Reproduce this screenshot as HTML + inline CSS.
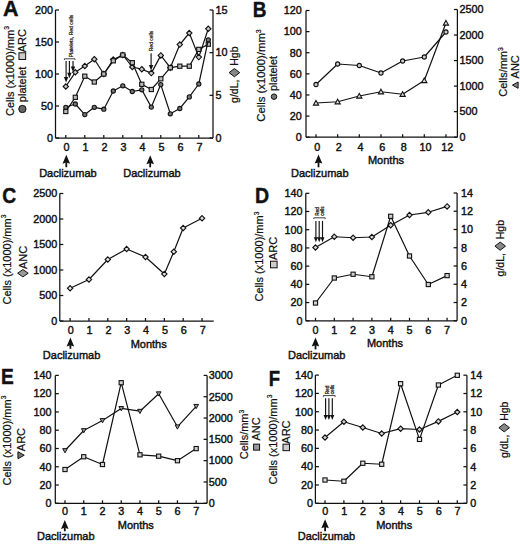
<!DOCTYPE html>
<html><head><meta charset="utf-8"><style>
html,body{margin:0;padding:0;background:#fff;}
svg{display:block;}
text{font-family:"Liberation Sans",sans-serif;fill:#111;stroke:#111;stroke-width:0.42px;}
</style></head><body>
<svg width="520" height="545" viewBox="0 0 520 545">
<rect width="520" height="545" fill="#fff"/>
<text transform="translate(3.00 16.20) scale(1.0 1)" x="0" y="0" font-size="21.5" font-weight="bold">A</text>
<line x1="55.50" y1="10.00" x2="55.50" y2="138.00" stroke="#111" stroke-width="1.25"/>
<line x1="55.50" y1="138.00" x2="59.00" y2="138.00" stroke="#111" stroke-width="1.25"/>
<text x="53.00" y="141.80" font-size="10.8" text-anchor="end" font-weight="normal">0</text>
<line x1="55.50" y1="106.00" x2="59.00" y2="106.00" stroke="#111" stroke-width="1.25"/>
<text x="53.00" y="109.80" font-size="10.8" text-anchor="end" font-weight="normal">50</text>
<line x1="55.50" y1="74.00" x2="59.00" y2="74.00" stroke="#111" stroke-width="1.25"/>
<text x="53.00" y="77.80" font-size="10.8" text-anchor="end" font-weight="normal">100</text>
<line x1="55.50" y1="42.00" x2="59.00" y2="42.00" stroke="#111" stroke-width="1.25"/>
<text x="53.00" y="45.80" font-size="10.8" text-anchor="end" font-weight="normal">150</text>
<line x1="55.50" y1="10.00" x2="59.00" y2="10.00" stroke="#111" stroke-width="1.25"/>
<text x="53.00" y="13.80" font-size="10.8" text-anchor="end" font-weight="normal">200</text>
<line x1="213.00" y1="10.00" x2="213.00" y2="138.00" stroke="#111" stroke-width="1.25"/>
<line x1="209.50" y1="138.00" x2="213.00" y2="138.00" stroke="#111" stroke-width="1.25"/>
<text x="215.50" y="141.80" font-size="10.8" text-anchor="start" font-weight="normal">0</text>
<line x1="209.50" y1="95.33" x2="213.00" y2="95.33" stroke="#111" stroke-width="1.25"/>
<text x="215.50" y="99.13" font-size="10.8" text-anchor="start" font-weight="normal">5</text>
<line x1="209.50" y1="52.67" x2="213.00" y2="52.67" stroke="#111" stroke-width="1.25"/>
<text x="215.50" y="56.47" font-size="10.8" text-anchor="start" font-weight="normal">10</text>
<line x1="209.50" y1="10.00" x2="213.00" y2="10.00" stroke="#111" stroke-width="1.25"/>
<text x="215.50" y="13.80" font-size="10.8" text-anchor="start" font-weight="normal">15</text>
<line x1="55.50" y1="138.00" x2="213.00" y2="138.00" stroke="#111" stroke-width="1.25"/>
<line x1="65.80" y1="135.00" x2="65.80" y2="138.00" stroke="#111" stroke-width="1.25"/>
<text x="66.50" y="150.80" font-size="10.8" text-anchor="middle" font-weight="normal">0</text>
<line x1="84.80" y1="135.00" x2="84.80" y2="138.00" stroke="#111" stroke-width="1.25"/>
<text x="85.50" y="150.80" font-size="10.8" text-anchor="middle" font-weight="normal">1</text>
<line x1="103.80" y1="135.00" x2="103.80" y2="138.00" stroke="#111" stroke-width="1.25"/>
<text x="104.50" y="150.80" font-size="10.8" text-anchor="middle" font-weight="normal">2</text>
<line x1="122.80" y1="135.00" x2="122.80" y2="138.00" stroke="#111" stroke-width="1.25"/>
<text x="123.50" y="150.80" font-size="10.8" text-anchor="middle" font-weight="normal">3</text>
<line x1="141.80" y1="135.00" x2="141.80" y2="138.00" stroke="#111" stroke-width="1.25"/>
<text x="142.50" y="150.80" font-size="10.8" text-anchor="middle" font-weight="normal">4</text>
<line x1="160.80" y1="135.00" x2="160.80" y2="138.00" stroke="#111" stroke-width="1.25"/>
<text x="161.50" y="150.80" font-size="10.8" text-anchor="middle" font-weight="normal">5</text>
<line x1="179.80" y1="135.00" x2="179.80" y2="138.00" stroke="#111" stroke-width="1.25"/>
<text x="180.50" y="150.80" font-size="10.8" text-anchor="middle" font-weight="normal">6</text>
<line x1="198.80" y1="135.00" x2="198.80" y2="138.00" stroke="#111" stroke-width="1.25"/>
<text x="199.50" y="150.80" font-size="10.8" text-anchor="middle" font-weight="normal">7</text>
<polyline points="65.80,86.50 75.30,72.30 84.80,66.00 94.30,59.20 103.80,74.00 113.30,59.50 122.80,55.00 132.30,67.00 141.80,69.20 151.30,73.10 160.80,55.40 170.30,67.70 179.80,44.60 189.30,33.00 198.80,57.10 208.30,28.80" fill="none" stroke="#111" stroke-width="1.2" stroke-linejoin="round"/>
<polygon points="65.80,83.80 68.50,86.50 65.80,89.20 63.10,86.50" fill="#c8c8c8" stroke="#111" stroke-width="1.1"/>
<polygon points="75.30,69.60 78.00,72.30 75.30,75.00 72.60,72.30" fill="#c8c8c8" stroke="#111" stroke-width="1.1"/>
<polygon points="84.80,63.30 87.50,66.00 84.80,68.70 82.10,66.00" fill="#c8c8c8" stroke="#111" stroke-width="1.1"/>
<polygon points="94.30,56.50 97.00,59.20 94.30,61.90 91.60,59.20" fill="#c8c8c8" stroke="#111" stroke-width="1.1"/>
<polygon points="103.80,71.30 106.50,74.00 103.80,76.70 101.10,74.00" fill="#c8c8c8" stroke="#111" stroke-width="1.1"/>
<polygon points="113.30,56.80 116.00,59.50 113.30,62.20 110.60,59.50" fill="#c8c8c8" stroke="#111" stroke-width="1.1"/>
<polygon points="122.80,52.30 125.50,55.00 122.80,57.70 120.10,55.00" fill="#c8c8c8" stroke="#111" stroke-width="1.1"/>
<polygon points="132.30,64.30 135.00,67.00 132.30,69.70 129.60,67.00" fill="#c8c8c8" stroke="#111" stroke-width="1.1"/>
<polygon points="141.80,66.50 144.50,69.20 141.80,71.90 139.10,69.20" fill="#c8c8c8" stroke="#111" stroke-width="1.1"/>
<polygon points="151.30,70.40 154.00,73.10 151.30,75.80 148.60,73.10" fill="#c8c8c8" stroke="#111" stroke-width="1.1"/>
<polygon points="160.80,52.70 163.50,55.40 160.80,58.10 158.10,55.40" fill="#c8c8c8" stroke="#111" stroke-width="1.1"/>
<polygon points="170.30,65.00 173.00,67.70 170.30,70.40 167.60,67.70" fill="#c8c8c8" stroke="#111" stroke-width="1.1"/>
<polygon points="179.80,41.90 182.50,44.60 179.80,47.30 177.10,44.60" fill="#c8c8c8" stroke="#111" stroke-width="1.1"/>
<polygon points="189.30,30.30 192.00,33.00 189.30,35.70 186.60,33.00" fill="#c8c8c8" stroke="#111" stroke-width="1.1"/>
<polygon points="198.80,54.40 201.50,57.10 198.80,59.80 196.10,57.10" fill="#c8c8c8" stroke="#111" stroke-width="1.1"/>
<polygon points="208.30,26.10 211.00,28.80 208.30,31.50 205.60,28.80" fill="#c8c8c8" stroke="#111" stroke-width="1.1"/>
<polyline points="65.80,111.50 75.30,97.30 84.80,76.20 94.30,82.00 103.80,74.00 113.30,60.80 122.80,55.00 132.30,62.70 141.80,84.30 151.30,89.50 160.80,78.80 170.30,67.70 179.80,66.20 189.30,66.20 198.80,49.40 208.30,44.20" fill="none" stroke="#111" stroke-width="1.2" stroke-linejoin="round"/>
<rect x="63.70" y="109.40" width="4.20" height="4.20" fill="#bbb" stroke="#111" stroke-width="1.1"/>
<rect x="73.20" y="95.20" width="4.20" height="4.20" fill="#bbb" stroke="#111" stroke-width="1.1"/>
<rect x="82.70" y="74.10" width="4.20" height="4.20" fill="#bbb" stroke="#111" stroke-width="1.1"/>
<rect x="92.20" y="79.90" width="4.20" height="4.20" fill="#bbb" stroke="#111" stroke-width="1.1"/>
<rect x="101.70" y="71.90" width="4.20" height="4.20" fill="#bbb" stroke="#111" stroke-width="1.1"/>
<rect x="111.20" y="58.70" width="4.20" height="4.20" fill="#bbb" stroke="#111" stroke-width="1.1"/>
<rect x="120.70" y="52.90" width="4.20" height="4.20" fill="#bbb" stroke="#111" stroke-width="1.1"/>
<rect x="130.20" y="60.60" width="4.20" height="4.20" fill="#bbb" stroke="#111" stroke-width="1.1"/>
<rect x="139.70" y="82.20" width="4.20" height="4.20" fill="#bbb" stroke="#111" stroke-width="1.1"/>
<rect x="149.20" y="87.40" width="4.20" height="4.20" fill="#bbb" stroke="#111" stroke-width="1.1"/>
<rect x="158.70" y="76.70" width="4.20" height="4.20" fill="#bbb" stroke="#111" stroke-width="1.1"/>
<rect x="168.20" y="65.60" width="4.20" height="4.20" fill="#bbb" stroke="#111" stroke-width="1.1"/>
<rect x="177.70" y="64.10" width="4.20" height="4.20" fill="#bbb" stroke="#111" stroke-width="1.1"/>
<rect x="187.20" y="64.10" width="4.20" height="4.20" fill="#bbb" stroke="#111" stroke-width="1.1"/>
<rect x="196.70" y="47.30" width="4.20" height="4.20" fill="#bbb" stroke="#111" stroke-width="1.1"/>
<rect x="206.20" y="42.10" width="4.20" height="4.20" fill="#bbb" stroke="#111" stroke-width="1.1"/>
<polyline points="65.80,107.30 75.30,104.00 84.80,114.60 94.30,107.30 103.80,109.20 113.30,91.00 122.80,85.80 132.30,91.50 141.80,89.80 151.30,107.10 160.80,84.60 170.30,113.80 179.80,108.50 189.30,96.90 198.80,84.00 208.30,39.80" fill="none" stroke="#111" stroke-width="1.2" stroke-linejoin="round"/>
<circle cx="65.80" cy="107.30" r="2.10" fill="#777" stroke="#111" stroke-width="1.1"/>
<circle cx="75.30" cy="104.00" r="2.10" fill="#777" stroke="#111" stroke-width="1.1"/>
<circle cx="84.80" cy="114.60" r="2.10" fill="#777" stroke="#111" stroke-width="1.1"/>
<circle cx="94.30" cy="107.30" r="2.10" fill="#777" stroke="#111" stroke-width="1.1"/>
<circle cx="103.80" cy="109.20" r="2.10" fill="#777" stroke="#111" stroke-width="1.1"/>
<circle cx="113.30" cy="91.00" r="2.10" fill="#777" stroke="#111" stroke-width="1.1"/>
<circle cx="122.80" cy="85.80" r="2.10" fill="#777" stroke="#111" stroke-width="1.1"/>
<circle cx="132.30" cy="91.50" r="2.10" fill="#777" stroke="#111" stroke-width="1.1"/>
<circle cx="141.80" cy="89.80" r="2.10" fill="#777" stroke="#111" stroke-width="1.1"/>
<circle cx="151.30" cy="107.10" r="2.10" fill="#777" stroke="#111" stroke-width="1.1"/>
<circle cx="160.80" cy="84.60" r="2.10" fill="#777" stroke="#111" stroke-width="1.1"/>
<circle cx="170.30" cy="113.80" r="2.10" fill="#777" stroke="#111" stroke-width="1.1"/>
<circle cx="179.80" cy="108.50" r="2.10" fill="#777" stroke="#111" stroke-width="1.1"/>
<circle cx="189.30" cy="96.90" r="2.10" fill="#777" stroke="#111" stroke-width="1.1"/>
<circle cx="198.80" cy="84.00" r="2.10" fill="#777" stroke="#111" stroke-width="1.1"/>
<circle cx="208.30" cy="39.80" r="2.10" fill="#777" stroke="#111" stroke-width="1.1"/>
<line x1="64.40" y1="58.80" x2="75.00" y2="58.80" stroke="#111" stroke-width="0.8"/>
<line x1="64.40" y1="58.80" x2="64.40" y2="60.00" stroke="#111" stroke-width="0.8"/>
<line x1="75.00" y1="58.80" x2="75.00" y2="60.00" stroke="#111" stroke-width="0.8"/>
<line x1="66.10" y1="61.00" x2="66.10" y2="78.10" stroke="#111" stroke-width="1.15"/>
<polygon points="66.10,82.60 68.30,77.10 63.90,77.10" fill="#111"/>
<line x1="69.40" y1="61.00" x2="69.40" y2="73.70" stroke="#111" stroke-width="1.15"/>
<polygon points="69.40,78.20 71.60,72.70 67.20,72.70" fill="#111"/>
<line x1="73.00" y1="61.00" x2="73.00" y2="67.50" stroke="#111" stroke-width="1.15"/>
<polygon points="73.00,72.00 75.20,66.50 70.80,66.50" fill="#111"/>
<g transform="translate(72.60 36.00) rotate(-90)"><text x="-21.26" y="0" font-size="5" style="stroke-width:0.2px">Platelets,&#160;Red&#160;cells</text></g>
<line x1="151.10" y1="53.30" x2="151.10" y2="66.00" stroke="#111" stroke-width="1.15"/>
<polygon points="151.10,70.50 153.30,65.00 148.90,65.00" fill="#111"/>
<g transform="translate(153.00 41.00) rotate(-90)"><text x="-10.28" y="0" font-size="5" style="stroke-width:0.2px">Red&#160;cells</text></g>
<line x1="66.30" y1="162.30" x2="66.30" y2="167.20" stroke="#111" stroke-width="1.8"/>
<polygon points="66.30,154.80 70.10,163.80 66.30,162.60 62.50,163.80" fill="#111"/>
<text x="67.90" y="176.90" font-size="11.0" text-anchor="middle" font-weight="normal">Daclizumab</text>
<line x1="150.20" y1="162.80" x2="150.20" y2="167.30" stroke="#111" stroke-width="1.8"/>
<polygon points="150.20,155.30 154.00,164.30 150.20,163.10 146.40,164.30" fill="#111"/>
<text x="152.00" y="176.90" font-size="11.0" text-anchor="middle" font-weight="normal">Daclizumab</text>
<g transform="translate(13.50 71.00) rotate(-90)"><text x="-44.99" y="0" font-size="11.0" style="stroke-width:0.22px">Cells&#160;(x1000)/mm</text><text x="41.20" y="-4.18" font-size="6.82" style="stroke-width:0.22px">3</text></g>
<g transform="translate(25.50 71.10) rotate(-90)"><circle cx="-37.90" cy="-3.10" r="3.65" fill="#666" stroke="#111" stroke-width="1"/><text x="-31.05" y="0" font-size="11.0" style="stroke-width:0.22px">platelet</text><rect x="11.62" y="-6.55" width="6.70" height="6.70" fill="#ccc" stroke="#111" stroke-width="1"/><text x="18.82" y="0" font-size="11.0" style="stroke-width:0.22px">ARC</text></g>
<g transform="translate(238.20 74.70) rotate(-90)"><text x="-28.21" y="0" font-size="10.5" style="stroke-width:0.22px">g/dL,</text><polygon points="-2.05,-3.80 2.05,-9.10 6.15,-3.80 2.05,1.50" fill="#888" stroke="#111" stroke-width="1"/><text x="8.95" y="0" font-size="10.5" style="stroke-width:0.22px">Hgb</text></g>
<text transform="translate(252.80 16.70) scale(0.88 1)" x="0" y="0" font-size="21.5" font-weight="bold">B</text>
<line x1="306.00" y1="10.50" x2="306.00" y2="137.20" stroke="#111" stroke-width="1.25"/>
<line x1="306.00" y1="137.20" x2="309.50" y2="137.20" stroke="#111" stroke-width="1.25"/>
<text x="301.70" y="141.00" font-size="10.8" text-anchor="end" font-weight="normal">0</text>
<line x1="306.00" y1="116.08" x2="309.50" y2="116.08" stroke="#111" stroke-width="1.25"/>
<text x="301.70" y="119.88" font-size="10.8" text-anchor="end" font-weight="normal">20</text>
<line x1="306.00" y1="94.97" x2="309.50" y2="94.97" stroke="#111" stroke-width="1.25"/>
<text x="301.70" y="98.77" font-size="10.8" text-anchor="end" font-weight="normal">40</text>
<line x1="306.00" y1="73.85" x2="309.50" y2="73.85" stroke="#111" stroke-width="1.25"/>
<text x="301.70" y="77.65" font-size="10.8" text-anchor="end" font-weight="normal">60</text>
<line x1="306.00" y1="52.73" x2="309.50" y2="52.73" stroke="#111" stroke-width="1.25"/>
<text x="301.70" y="56.53" font-size="10.8" text-anchor="end" font-weight="normal">80</text>
<line x1="306.00" y1="31.62" x2="309.50" y2="31.62" stroke="#111" stroke-width="1.25"/>
<text x="301.70" y="35.42" font-size="10.8" text-anchor="end" font-weight="normal">100</text>
<line x1="306.00" y1="10.50" x2="309.50" y2="10.50" stroke="#111" stroke-width="1.25"/>
<text x="301.70" y="14.30" font-size="10.8" text-anchor="end" font-weight="normal">120</text>
<line x1="457.40" y1="9.50" x2="457.40" y2="137.20" stroke="#111" stroke-width="1.25"/>
<line x1="453.90" y1="137.20" x2="457.40" y2="137.20" stroke="#111" stroke-width="1.25"/>
<text x="459.60" y="141.00" font-size="10.8" text-anchor="start" font-weight="normal">0</text>
<line x1="453.90" y1="111.66" x2="457.40" y2="111.66" stroke="#111" stroke-width="1.25"/>
<text x="459.60" y="115.46" font-size="10.8" text-anchor="start" font-weight="normal">500</text>
<line x1="453.90" y1="86.12" x2="457.40" y2="86.12" stroke="#111" stroke-width="1.25"/>
<text x="459.60" y="89.92" font-size="10.8" text-anchor="start" font-weight="normal">1000</text>
<line x1="453.90" y1="60.58" x2="457.40" y2="60.58" stroke="#111" stroke-width="1.25"/>
<text x="459.60" y="64.38" font-size="10.8" text-anchor="start" font-weight="normal">1500</text>
<line x1="453.90" y1="35.04" x2="457.40" y2="35.04" stroke="#111" stroke-width="1.25"/>
<text x="459.60" y="38.84" font-size="10.8" text-anchor="start" font-weight="normal">2000</text>
<line x1="453.90" y1="9.50" x2="457.40" y2="9.50" stroke="#111" stroke-width="1.25"/>
<text x="459.60" y="13.30" font-size="10.8" text-anchor="start" font-weight="normal">2500</text>
<line x1="306.00" y1="137.20" x2="457.40" y2="137.20" stroke="#111" stroke-width="1.25"/>
<line x1="316.00" y1="134.20" x2="316.00" y2="137.20" stroke="#111" stroke-width="1.25"/>
<text x="317.20" y="151.30" font-size="10.8" text-anchor="middle" font-weight="normal">0</text>
<line x1="337.66" y1="134.20" x2="337.66" y2="137.20" stroke="#111" stroke-width="1.25"/>
<text x="338.86" y="151.30" font-size="10.8" text-anchor="middle" font-weight="normal">2</text>
<line x1="359.32" y1="134.20" x2="359.32" y2="137.20" stroke="#111" stroke-width="1.25"/>
<text x="360.52" y="151.30" font-size="10.8" text-anchor="middle" font-weight="normal">4</text>
<line x1="380.98" y1="134.20" x2="380.98" y2="137.20" stroke="#111" stroke-width="1.25"/>
<text x="382.18" y="151.30" font-size="10.8" text-anchor="middle" font-weight="normal">6</text>
<line x1="402.64" y1="134.20" x2="402.64" y2="137.20" stroke="#111" stroke-width="1.25"/>
<text x="403.84" y="151.30" font-size="10.8" text-anchor="middle" font-weight="normal">8</text>
<line x1="424.30" y1="134.20" x2="424.30" y2="137.20" stroke="#111" stroke-width="1.25"/>
<text x="425.50" y="151.30" font-size="10.8" text-anchor="middle" font-weight="normal">10</text>
<line x1="445.96" y1="134.20" x2="445.96" y2="137.20" stroke="#111" stroke-width="1.25"/>
<text x="447.16" y="151.30" font-size="10.8" text-anchor="middle" font-weight="normal">12</text>
<polyline points="316.00,103.00 337.66,101.75 359.32,96.00 380.98,91.75 402.64,94.25 424.30,80.50 445.96,23.00" fill="none" stroke="#111" stroke-width="1.2" stroke-linejoin="round"/>
<polygon points="316.00,100.40 318.60,105.08 313.40,105.08" fill="#ddd" stroke="#111" stroke-width="1.1"/>
<polygon points="337.66,99.15 340.26,103.83 335.06,103.83" fill="#ddd" stroke="#111" stroke-width="1.1"/>
<polygon points="359.32,93.40 361.92,98.08 356.72,98.08" fill="#ddd" stroke="#111" stroke-width="1.1"/>
<polygon points="380.98,89.15 383.58,93.83 378.38,93.83" fill="#ddd" stroke="#111" stroke-width="1.1"/>
<polygon points="402.64,91.65 405.24,96.33 400.04,96.33" fill="#ddd" stroke="#111" stroke-width="1.1"/>
<polygon points="424.30,77.90 426.90,82.58 421.70,82.58" fill="#ddd" stroke="#111" stroke-width="1.1"/>
<polygon points="445.96,20.40 448.56,25.08 443.36,25.08" fill="#ddd" stroke="#111" stroke-width="1.1"/>
<polyline points="316.00,84.50 337.66,64.00 359.32,65.50 380.98,73.00 402.64,61.00 424.30,57.00 445.96,32.00" fill="none" stroke="#111" stroke-width="1.2" stroke-linejoin="round"/>
<circle cx="316.00" cy="84.50" r="2.10" fill="#ccc" stroke="#111" stroke-width="1.1"/>
<circle cx="337.66" cy="64.00" r="2.10" fill="#ccc" stroke="#111" stroke-width="1.1"/>
<circle cx="359.32" cy="65.50" r="2.10" fill="#ccc" stroke="#111" stroke-width="1.1"/>
<circle cx="380.98" cy="73.00" r="2.10" fill="#ccc" stroke="#111" stroke-width="1.1"/>
<circle cx="402.64" cy="61.00" r="2.10" fill="#ccc" stroke="#111" stroke-width="1.1"/>
<circle cx="424.30" cy="57.00" r="2.10" fill="#ccc" stroke="#111" stroke-width="1.1"/>
<circle cx="445.96" cy="32.00" r="2.10" fill="#ccc" stroke="#111" stroke-width="1.1"/>
<text x="386.00" y="163.80" font-size="11.0" text-anchor="middle" font-weight="normal">Months</text>
<line x1="318.50" y1="162.10" x2="318.50" y2="167.30" stroke="#111" stroke-width="1.8"/>
<polygon points="318.50,154.60 322.30,163.60 318.50,162.40 314.70,163.60" fill="#111"/>
<text x="319.80" y="176.50" font-size="11.0" text-anchor="middle" font-weight="normal">Daclizumab</text>
<g transform="translate(265.00 75.50) rotate(-90)"><text x="-46.22" y="0" font-size="11.3" style="stroke-width:0.22px">Cells&#160;(x1000)/mm</text><text x="42.32" y="-4.29" font-size="7.01" style="stroke-width:0.22px">3</text></g>
<g transform="translate(277.20 78.00) rotate(-90)"><circle cx="-18.66" cy="-3.20" r="2.75" fill="#777" stroke="#111" stroke-width="1"/><text x="-12.91" y="0" font-size="10.8" style="stroke-width:0.22px">platelet</text></g>
<g transform="translate(507.30 72.00) rotate(-90)"><text x="-24.81" y="0" font-size="11.0" style="stroke-width:0.22px">Cells/mm</text><text x="21.02" y="-4.18" font-size="6.82" style="stroke-width:0.22px">3</text></g>
<g transform="translate(518.80 72.30) rotate(-90)"><polygon points="-12.84,-6.35 -9.69,-0.68 -15.99,-0.68" fill="#888" stroke="#111" stroke-width="1"/><text x="-9.19" y="0" font-size="11.0" style="stroke-width:0.22px">&#160;ANC</text></g>
<text transform="translate(2.36 203.00) scale(0.9 1)" x="0" y="0" font-size="21.5" font-weight="bold">C</text>
<line x1="59.80" y1="193.50" x2="59.80" y2="321.00" stroke="#111" stroke-width="1.25"/>
<line x1="59.80" y1="321.00" x2="63.30" y2="321.00" stroke="#111" stroke-width="1.25"/>
<text x="57.30" y="324.80" font-size="10.8" text-anchor="end" font-weight="normal">0</text>
<line x1="59.80" y1="295.50" x2="63.30" y2="295.50" stroke="#111" stroke-width="1.25"/>
<text x="57.30" y="299.30" font-size="10.8" text-anchor="end" font-weight="normal">500</text>
<line x1="59.80" y1="270.00" x2="63.30" y2="270.00" stroke="#111" stroke-width="1.25"/>
<text x="57.30" y="273.80" font-size="10.8" text-anchor="end" font-weight="normal">1000</text>
<line x1="59.80" y1="244.50" x2="63.30" y2="244.50" stroke="#111" stroke-width="1.25"/>
<text x="57.30" y="248.30" font-size="10.8" text-anchor="end" font-weight="normal">1500</text>
<line x1="59.80" y1="219.00" x2="63.30" y2="219.00" stroke="#111" stroke-width="1.25"/>
<text x="57.30" y="222.80" font-size="10.8" text-anchor="end" font-weight="normal">2000</text>
<line x1="59.80" y1="193.50" x2="63.30" y2="193.50" stroke="#111" stroke-width="1.25"/>
<text x="57.30" y="197.30" font-size="10.8" text-anchor="end" font-weight="normal">2500</text>
<line x1="59.80" y1="321.00" x2="213.75" y2="321.00" stroke="#111" stroke-width="1.25"/>
<line x1="70.10" y1="318.00" x2="70.10" y2="321.00" stroke="#111" stroke-width="1.25"/>
<text x="70.70" y="334.00" font-size="10.8" text-anchor="middle" font-weight="normal">0</text>
<line x1="88.95" y1="318.00" x2="88.95" y2="321.00" stroke="#111" stroke-width="1.25"/>
<text x="89.55" y="334.00" font-size="10.8" text-anchor="middle" font-weight="normal">1</text>
<line x1="107.80" y1="318.00" x2="107.80" y2="321.00" stroke="#111" stroke-width="1.25"/>
<text x="108.40" y="334.00" font-size="10.8" text-anchor="middle" font-weight="normal">2</text>
<line x1="126.65" y1="318.00" x2="126.65" y2="321.00" stroke="#111" stroke-width="1.25"/>
<text x="127.25" y="334.00" font-size="10.8" text-anchor="middle" font-weight="normal">3</text>
<line x1="145.50" y1="318.00" x2="145.50" y2="321.00" stroke="#111" stroke-width="1.25"/>
<text x="146.10" y="334.00" font-size="10.8" text-anchor="middle" font-weight="normal">4</text>
<line x1="164.35" y1="318.00" x2="164.35" y2="321.00" stroke="#111" stroke-width="1.25"/>
<text x="164.95" y="334.00" font-size="10.8" text-anchor="middle" font-weight="normal">5</text>
<line x1="183.20" y1="318.00" x2="183.20" y2="321.00" stroke="#111" stroke-width="1.25"/>
<text x="183.80" y="334.00" font-size="10.8" text-anchor="middle" font-weight="normal">6</text>
<line x1="202.05" y1="318.00" x2="202.05" y2="321.00" stroke="#111" stroke-width="1.25"/>
<text x="202.65" y="334.00" font-size="10.8" text-anchor="middle" font-weight="normal">7</text>
<polyline points="70.10,288.25 88.95,279.50 107.80,259.50 126.65,249.00 145.50,257.00 164.35,274.00 173.78,251.75 183.20,228.00 202.05,218.25" fill="none" stroke="#111" stroke-width="1.2" stroke-linejoin="round"/>
<polygon points="70.10,285.55 72.80,288.25 70.10,290.95 67.40,288.25" fill="#e4e4e4" stroke="#111" stroke-width="1.1"/>
<polygon points="88.95,276.80 91.65,279.50 88.95,282.20 86.25,279.50" fill="#e4e4e4" stroke="#111" stroke-width="1.1"/>
<polygon points="107.80,256.80 110.50,259.50 107.80,262.20 105.10,259.50" fill="#e4e4e4" stroke="#111" stroke-width="1.1"/>
<polygon points="126.65,246.30 129.35,249.00 126.65,251.70 123.95,249.00" fill="#e4e4e4" stroke="#111" stroke-width="1.1"/>
<polygon points="145.50,254.30 148.20,257.00 145.50,259.70 142.80,257.00" fill="#e4e4e4" stroke="#111" stroke-width="1.1"/>
<polygon points="164.35,271.30 167.05,274.00 164.35,276.70 161.65,274.00" fill="#e4e4e4" stroke="#111" stroke-width="1.1"/>
<polygon points="173.78,249.05 176.47,251.75 173.78,254.45 171.08,251.75" fill="#e4e4e4" stroke="#111" stroke-width="1.1"/>
<polygon points="183.20,225.30 185.90,228.00 183.20,230.70 180.50,228.00" fill="#e4e4e4" stroke="#111" stroke-width="1.1"/>
<polygon points="202.05,215.55 204.75,218.25 202.05,220.95 199.35,218.25" fill="#e4e4e4" stroke="#111" stroke-width="1.1"/>
<text x="148.70" y="348.00" font-size="11.0" text-anchor="middle" font-weight="normal">Months</text>
<line x1="70.40" y1="345.00" x2="70.40" y2="348.80" stroke="#111" stroke-width="1.8"/>
<polygon points="70.40,337.50 74.20,346.50 70.40,345.30 66.60,346.50" fill="#111"/>
<text x="71.60" y="359.00" font-size="11.0" text-anchor="middle" font-weight="normal">Daclizumab</text>
<g transform="translate(10.50 259.50) rotate(-90)"><text x="-44.99" y="0" font-size="11.0" style="stroke-width:0.22px">Cells&#160;(x1000)/mm</text><text x="41.20" y="-4.18" font-size="6.82" style="stroke-width:0.22px">3</text></g>
<g transform="translate(26.80 261.60) rotate(-90)"><polygon points="-15.26,-3.90 -11.61,-9.20 -7.96,-3.90 -11.61,1.40" fill="#999" stroke="#111" stroke-width="1"/><text x="-7.46" y="0" font-size="11.0" style="stroke-width:0.22px">ANC</text></g>
<text transform="translate(255.10 203.40) scale(0.91 1)" x="0" y="0" font-size="21.5" font-weight="bold">D</text>
<line x1="305.80" y1="193.30" x2="305.80" y2="320.75" stroke="#111" stroke-width="1.25"/>
<line x1="305.80" y1="320.75" x2="309.30" y2="320.75" stroke="#111" stroke-width="1.25"/>
<text x="302.40" y="324.55" font-size="10.8" text-anchor="end" font-weight="normal">0</text>
<line x1="305.80" y1="302.54" x2="309.30" y2="302.54" stroke="#111" stroke-width="1.25"/>
<text x="302.40" y="306.34" font-size="10.8" text-anchor="end" font-weight="normal">20</text>
<line x1="305.80" y1="284.34" x2="309.30" y2="284.34" stroke="#111" stroke-width="1.25"/>
<text x="302.40" y="288.14" font-size="10.8" text-anchor="end" font-weight="normal">40</text>
<line x1="305.80" y1="266.13" x2="309.30" y2="266.13" stroke="#111" stroke-width="1.25"/>
<text x="302.40" y="269.93" font-size="10.8" text-anchor="end" font-weight="normal">60</text>
<line x1="305.80" y1="247.92" x2="309.30" y2="247.92" stroke="#111" stroke-width="1.25"/>
<text x="302.40" y="251.72" font-size="10.8" text-anchor="end" font-weight="normal">80</text>
<line x1="305.80" y1="229.71" x2="309.30" y2="229.71" stroke="#111" stroke-width="1.25"/>
<text x="302.40" y="233.51" font-size="10.8" text-anchor="end" font-weight="normal">100</text>
<line x1="305.80" y1="211.51" x2="309.30" y2="211.51" stroke="#111" stroke-width="1.25"/>
<text x="302.40" y="215.31" font-size="10.8" text-anchor="end" font-weight="normal">120</text>
<line x1="305.80" y1="193.30" x2="309.30" y2="193.30" stroke="#111" stroke-width="1.25"/>
<text x="302.40" y="197.10" font-size="10.8" text-anchor="end" font-weight="normal">140</text>
<line x1="457.10" y1="193.00" x2="457.10" y2="320.75" stroke="#111" stroke-width="1.25"/>
<line x1="453.60" y1="320.75" x2="457.10" y2="320.75" stroke="#111" stroke-width="1.25"/>
<text x="460.90" y="324.55" font-size="10.8" text-anchor="start" font-weight="normal">0</text>
<line x1="453.60" y1="302.50" x2="457.10" y2="302.50" stroke="#111" stroke-width="1.25"/>
<text x="460.90" y="306.30" font-size="10.8" text-anchor="start" font-weight="normal">2</text>
<line x1="453.60" y1="284.25" x2="457.10" y2="284.25" stroke="#111" stroke-width="1.25"/>
<text x="460.90" y="288.05" font-size="10.8" text-anchor="start" font-weight="normal">4</text>
<line x1="453.60" y1="266.00" x2="457.10" y2="266.00" stroke="#111" stroke-width="1.25"/>
<text x="460.90" y="269.80" font-size="10.8" text-anchor="start" font-weight="normal">6</text>
<line x1="453.60" y1="247.75" x2="457.10" y2="247.75" stroke="#111" stroke-width="1.25"/>
<text x="460.90" y="251.55" font-size="10.8" text-anchor="start" font-weight="normal">8</text>
<line x1="453.60" y1="229.50" x2="457.10" y2="229.50" stroke="#111" stroke-width="1.25"/>
<text x="460.90" y="233.30" font-size="10.8" text-anchor="start" font-weight="normal">10</text>
<line x1="453.60" y1="211.25" x2="457.10" y2="211.25" stroke="#111" stroke-width="1.25"/>
<text x="460.90" y="215.05" font-size="10.8" text-anchor="start" font-weight="normal">12</text>
<line x1="453.60" y1="193.00" x2="457.10" y2="193.00" stroke="#111" stroke-width="1.25"/>
<text x="460.90" y="196.80" font-size="10.8" text-anchor="start" font-weight="normal">14</text>
<line x1="305.80" y1="320.75" x2="457.10" y2="320.75" stroke="#111" stroke-width="1.25"/>
<line x1="315.50" y1="317.75" x2="315.50" y2="320.75" stroke="#111" stroke-width="1.25"/>
<text x="315.50" y="333.50" font-size="10.8" text-anchor="middle" font-weight="normal">0</text>
<line x1="334.30" y1="317.75" x2="334.30" y2="320.75" stroke="#111" stroke-width="1.25"/>
<text x="334.30" y="333.50" font-size="10.8" text-anchor="middle" font-weight="normal">1</text>
<line x1="353.10" y1="317.75" x2="353.10" y2="320.75" stroke="#111" stroke-width="1.25"/>
<text x="353.10" y="333.50" font-size="10.8" text-anchor="middle" font-weight="normal">2</text>
<line x1="371.90" y1="317.75" x2="371.90" y2="320.75" stroke="#111" stroke-width="1.25"/>
<text x="371.90" y="333.50" font-size="10.8" text-anchor="middle" font-weight="normal">3</text>
<line x1="390.70" y1="317.75" x2="390.70" y2="320.75" stroke="#111" stroke-width="1.25"/>
<text x="390.70" y="333.50" font-size="10.8" text-anchor="middle" font-weight="normal">4</text>
<line x1="409.50" y1="317.75" x2="409.50" y2="320.75" stroke="#111" stroke-width="1.25"/>
<text x="409.50" y="333.50" font-size="10.8" text-anchor="middle" font-weight="normal">5</text>
<line x1="428.30" y1="317.75" x2="428.30" y2="320.75" stroke="#111" stroke-width="1.25"/>
<text x="428.30" y="333.50" font-size="10.8" text-anchor="middle" font-weight="normal">6</text>
<line x1="447.10" y1="317.75" x2="447.10" y2="320.75" stroke="#111" stroke-width="1.25"/>
<text x="447.10" y="333.50" font-size="10.8" text-anchor="middle" font-weight="normal">7</text>
<polyline points="315.50,247.50 334.30,236.75 353.10,237.75 371.90,237.00 390.70,225.20 409.50,215.00 428.30,212.30 447.10,206.40" fill="none" stroke="#111" stroke-width="1.2" stroke-linejoin="round"/>
<polygon points="315.50,244.80 318.20,247.50 315.50,250.20 312.80,247.50" fill="#d8d8d8" stroke="#111" stroke-width="1.1"/>
<polygon points="334.30,234.05 337.00,236.75 334.30,239.45 331.60,236.75" fill="#d8d8d8" stroke="#111" stroke-width="1.1"/>
<polygon points="353.10,235.05 355.80,237.75 353.10,240.45 350.40,237.75" fill="#d8d8d8" stroke="#111" stroke-width="1.1"/>
<polygon points="371.90,234.30 374.60,237.00 371.90,239.70 369.20,237.00" fill="#d8d8d8" stroke="#111" stroke-width="1.1"/>
<polygon points="390.70,222.50 393.40,225.20 390.70,227.90 388.00,225.20" fill="#d8d8d8" stroke="#111" stroke-width="1.1"/>
<polygon points="409.50,212.30 412.20,215.00 409.50,217.70 406.80,215.00" fill="#d8d8d8" stroke="#111" stroke-width="1.1"/>
<polygon points="428.30,209.60 431.00,212.30 428.30,215.00 425.60,212.30" fill="#d8d8d8" stroke="#111" stroke-width="1.1"/>
<polygon points="447.10,203.70 449.80,206.40 447.10,209.10 444.40,206.40" fill="#d8d8d8" stroke="#111" stroke-width="1.1"/>
<polyline points="315.50,303.00 334.30,278.00 353.10,274.25 371.90,276.75 390.70,216.30 409.50,256.00 428.30,284.50 447.10,275.60" fill="none" stroke="#111" stroke-width="1.2" stroke-linejoin="round"/>
<rect x="313.40" y="300.90" width="4.20" height="4.20" fill="#d0d0d0" stroke="#111" stroke-width="1.1"/>
<rect x="332.20" y="275.90" width="4.20" height="4.20" fill="#d0d0d0" stroke="#111" stroke-width="1.1"/>
<rect x="351.00" y="272.15" width="4.20" height="4.20" fill="#d0d0d0" stroke="#111" stroke-width="1.1"/>
<rect x="369.80" y="274.65" width="4.20" height="4.20" fill="#d0d0d0" stroke="#111" stroke-width="1.1"/>
<rect x="388.60" y="214.20" width="4.20" height="4.20" fill="#d0d0d0" stroke="#111" stroke-width="1.1"/>
<rect x="407.40" y="253.90" width="4.20" height="4.20" fill="#d0d0d0" stroke="#111" stroke-width="1.1"/>
<rect x="426.20" y="282.40" width="4.20" height="4.20" fill="#d0d0d0" stroke="#111" stroke-width="1.1"/>
<rect x="445.00" y="273.50" width="4.20" height="4.20" fill="#d0d0d0" stroke="#111" stroke-width="1.1"/>
<polyline points="313.80,219.00 313.80,217.80 325.20,217.80 325.20,219.00" fill="none" stroke="#111" stroke-width="0.8"/>
<line x1="315.90" y1="220.90" x2="315.90" y2="238.20" stroke="#111" stroke-width="1.15"/>
<polygon points="315.90,242.20 317.90,237.20 313.90,237.20" fill="#111"/>
<line x1="319.20" y1="220.90" x2="319.20" y2="238.20" stroke="#111" stroke-width="1.15"/>
<polygon points="319.20,242.20 321.20,237.20 317.20,237.20" fill="#111"/>
<line x1="322.50" y1="220.90" x2="322.50" y2="238.20" stroke="#111" stroke-width="1.15"/>
<polygon points="322.50,242.20 324.50,237.20 320.50,237.20" fill="#111"/>
<text x="319.00" y="215.80" font-size="4.7" style="stroke-width:0.25px" transform="rotate(-90 319.00 215.80)">Red</text>
<text x="324.00" y="215.80" font-size="4.7" style="stroke-width:0.25px" transform="rotate(-90 324.00 215.80)">cells</text>
<text x="385.00" y="346.50" font-size="11.0" text-anchor="middle" font-weight="normal">Months</text>
<line x1="315.50" y1="344.90" x2="315.50" y2="349.40" stroke="#111" stroke-width="1.8"/>
<polygon points="315.50,337.40 319.30,346.40 315.50,345.20 311.70,346.40" fill="#111"/>
<text x="316.70" y="359.00" font-size="11.0" text-anchor="middle" font-weight="normal">Daclizumab</text>
<g transform="translate(263.20 256.50) rotate(-90)"><text x="-44.99" y="0" font-size="11.0" style="stroke-width:0.22px">Cells&#160;(x1000)/mm</text><text x="41.20" y="-4.18" font-size="6.82" style="stroke-width:0.22px">3</text></g>
<g transform="translate(277.10 252.60) rotate(-90)"><rect x="-15.21" y="-6.60" width="6.60" height="6.60" fill="#ccc" stroke="#111" stroke-width="1"/><text x="-7.51" y="0" font-size="11.0" style="stroke-width:0.22px">ARC</text></g>
<g transform="translate(504.00 248.20) rotate(-90)"><text x="-28.21" y="0" font-size="10.5" style="stroke-width:0.22px">g/dL,</text><polygon points="-2.05,-3.80 2.05,-9.10 6.15,-3.80 2.05,1.50" fill="#888" stroke="#111" stroke-width="1"/><text x="8.95" y="0" font-size="10.5" style="stroke-width:0.22px">Hgb</text></g>
<text transform="translate(0.93 383.80) scale(0.89 1)" x="0" y="0" font-size="21.5" font-weight="bold">E</text>
<line x1="55.30" y1="375.40" x2="55.30" y2="503.30" stroke="#111" stroke-width="1.25"/>
<line x1="55.30" y1="503.30" x2="58.80" y2="503.30" stroke="#111" stroke-width="1.25"/>
<text x="51.40" y="507.10" font-size="10.8" text-anchor="end" font-weight="normal">0</text>
<line x1="55.30" y1="485.03" x2="58.80" y2="485.03" stroke="#111" stroke-width="1.25"/>
<text x="51.40" y="488.83" font-size="10.8" text-anchor="end" font-weight="normal">20</text>
<line x1="55.30" y1="466.76" x2="58.80" y2="466.76" stroke="#111" stroke-width="1.25"/>
<text x="51.40" y="470.56" font-size="10.8" text-anchor="end" font-weight="normal">40</text>
<line x1="55.30" y1="448.49" x2="58.80" y2="448.49" stroke="#111" stroke-width="1.25"/>
<text x="51.40" y="452.29" font-size="10.8" text-anchor="end" font-weight="normal">60</text>
<line x1="55.30" y1="430.21" x2="58.80" y2="430.21" stroke="#111" stroke-width="1.25"/>
<text x="51.40" y="434.01" font-size="10.8" text-anchor="end" font-weight="normal">80</text>
<line x1="55.30" y1="411.94" x2="58.80" y2="411.94" stroke="#111" stroke-width="1.25"/>
<text x="51.40" y="415.74" font-size="10.8" text-anchor="end" font-weight="normal">100</text>
<line x1="55.30" y1="393.67" x2="58.80" y2="393.67" stroke="#111" stroke-width="1.25"/>
<text x="51.40" y="397.47" font-size="10.8" text-anchor="end" font-weight="normal">120</text>
<line x1="55.30" y1="375.40" x2="58.80" y2="375.40" stroke="#111" stroke-width="1.25"/>
<text x="51.40" y="379.20" font-size="10.8" text-anchor="end" font-weight="normal">140</text>
<line x1="207.10" y1="375.40" x2="207.10" y2="503.30" stroke="#111" stroke-width="1.25"/>
<line x1="203.60" y1="503.30" x2="207.10" y2="503.30" stroke="#111" stroke-width="1.25"/>
<text x="208.70" y="507.10" font-size="10.8" text-anchor="start" font-weight="normal">0</text>
<line x1="203.60" y1="481.98" x2="207.10" y2="481.98" stroke="#111" stroke-width="1.25"/>
<text x="208.70" y="485.78" font-size="10.8" text-anchor="start" font-weight="normal">500</text>
<line x1="203.60" y1="460.67" x2="207.10" y2="460.67" stroke="#111" stroke-width="1.25"/>
<text x="208.70" y="464.47" font-size="10.8" text-anchor="start" font-weight="normal">1000</text>
<line x1="203.60" y1="439.35" x2="207.10" y2="439.35" stroke="#111" stroke-width="1.25"/>
<text x="208.70" y="443.15" font-size="10.8" text-anchor="start" font-weight="normal">1500</text>
<line x1="203.60" y1="418.03" x2="207.10" y2="418.03" stroke="#111" stroke-width="1.25"/>
<text x="208.70" y="421.83" font-size="10.8" text-anchor="start" font-weight="normal">2000</text>
<line x1="203.60" y1="396.72" x2="207.10" y2="396.72" stroke="#111" stroke-width="1.25"/>
<text x="208.70" y="400.52" font-size="10.8" text-anchor="start" font-weight="normal">2500</text>
<line x1="203.60" y1="375.40" x2="207.10" y2="375.40" stroke="#111" stroke-width="1.25"/>
<text x="208.70" y="379.20" font-size="10.8" text-anchor="start" font-weight="normal">3000</text>
<line x1="55.30" y1="503.30" x2="207.10" y2="503.30" stroke="#111" stroke-width="1.25"/>
<line x1="65.00" y1="500.30" x2="65.00" y2="503.30" stroke="#111" stroke-width="1.25"/>
<text x="65.00" y="515.30" font-size="10.8" text-anchor="middle" font-weight="normal">0</text>
<line x1="83.74" y1="500.30" x2="83.74" y2="503.30" stroke="#111" stroke-width="1.25"/>
<text x="83.74" y="515.30" font-size="10.8" text-anchor="middle" font-weight="normal">1</text>
<line x1="102.48" y1="500.30" x2="102.48" y2="503.30" stroke="#111" stroke-width="1.25"/>
<text x="102.48" y="515.30" font-size="10.8" text-anchor="middle" font-weight="normal">2</text>
<line x1="121.22" y1="500.30" x2="121.22" y2="503.30" stroke="#111" stroke-width="1.25"/>
<text x="121.22" y="515.30" font-size="10.8" text-anchor="middle" font-weight="normal">3</text>
<line x1="139.96" y1="500.30" x2="139.96" y2="503.30" stroke="#111" stroke-width="1.25"/>
<text x="139.96" y="515.30" font-size="10.8" text-anchor="middle" font-weight="normal">4</text>
<line x1="158.70" y1="500.30" x2="158.70" y2="503.30" stroke="#111" stroke-width="1.25"/>
<text x="158.70" y="515.30" font-size="10.8" text-anchor="middle" font-weight="normal">5</text>
<line x1="177.44" y1="500.30" x2="177.44" y2="503.30" stroke="#111" stroke-width="1.25"/>
<text x="177.44" y="515.30" font-size="10.8" text-anchor="middle" font-weight="normal">6</text>
<line x1="196.18" y1="500.30" x2="196.18" y2="503.30" stroke="#111" stroke-width="1.25"/>
<text x="196.18" y="515.30" font-size="10.8" text-anchor="middle" font-weight="normal">7</text>
<polyline points="65.00,450.50 83.74,430.50 102.48,420.50 121.22,408.40 139.96,411.20 158.70,393.70 177.44,426.80 196.18,406.30" fill="none" stroke="#111" stroke-width="1.2" stroke-linejoin="round"/>
<polygon points="65.00,452.84 67.34,448.63 62.66,448.63" fill="#999" stroke="#111" stroke-width="1"/>
<polygon points="83.74,432.84 86.08,428.63 81.40,428.63" fill="#999" stroke="#111" stroke-width="1"/>
<polygon points="102.48,422.84 104.82,418.63 100.14,418.63" fill="#999" stroke="#111" stroke-width="1"/>
<polygon points="121.22,410.74 123.56,406.53 118.88,406.53" fill="#999" stroke="#111" stroke-width="1"/>
<polygon points="139.96,413.54 142.30,409.33 137.62,409.33" fill="#999" stroke="#111" stroke-width="1"/>
<polygon points="158.70,396.04 161.04,391.83 156.36,391.83" fill="#999" stroke="#111" stroke-width="1"/>
<polygon points="177.44,429.14 179.78,424.93 175.10,424.93" fill="#999" stroke="#111" stroke-width="1"/>
<polygon points="196.18,408.64 198.52,404.43 193.84,404.43" fill="#999" stroke="#111" stroke-width="1"/>
<polyline points="65.00,469.50 83.74,456.75 102.48,464.50 121.22,382.70 139.96,454.80 158.70,456.20 177.44,460.70 196.18,448.60" fill="none" stroke="#111" stroke-width="1.2" stroke-linejoin="round"/>
<rect x="62.90" y="467.40" width="4.20" height="4.20" fill="#d0d0d0" stroke="#111" stroke-width="1.1"/>
<rect x="81.64" y="454.65" width="4.20" height="4.20" fill="#d0d0d0" stroke="#111" stroke-width="1.1"/>
<rect x="100.38" y="462.40" width="4.20" height="4.20" fill="#d0d0d0" stroke="#111" stroke-width="1.1"/>
<rect x="119.12" y="380.60" width="4.20" height="4.20" fill="#d0d0d0" stroke="#111" stroke-width="1.1"/>
<rect x="137.86" y="452.70" width="4.20" height="4.20" fill="#d0d0d0" stroke="#111" stroke-width="1.1"/>
<rect x="156.60" y="454.10" width="4.20" height="4.20" fill="#d0d0d0" stroke="#111" stroke-width="1.1"/>
<rect x="175.34" y="458.60" width="4.20" height="4.20" fill="#d0d0d0" stroke="#111" stroke-width="1.1"/>
<rect x="194.08" y="446.50" width="4.20" height="4.20" fill="#d0d0d0" stroke="#111" stroke-width="1.1"/>
<text x="135.80" y="529.40" font-size="11.0" text-anchor="middle" font-weight="normal">Months</text>
<line x1="64.80" y1="527.50" x2="64.80" y2="531.30" stroke="#111" stroke-width="1.8"/>
<polygon points="64.80,520.00 68.60,529.00 64.80,527.80 61.00,529.00" fill="#111"/>
<text x="65.80" y="540.30" font-size="11.0" text-anchor="middle" font-weight="normal">Daclizumab</text>
<g transform="translate(10.50 440.50) rotate(-90)"><text x="-44.99" y="0" font-size="11.0" style="stroke-width:0.22px">Cells&#160;(x1000)/mm</text><text x="41.20" y="-4.18" font-size="6.82" style="stroke-width:0.22px">3</text></g>
<g transform="translate(24.70 443.60) rotate(-90)"><polygon points="-11.61,-0.46 -8.11,-6.76 -15.11,-6.76" fill="#777" stroke="#111" stroke-width="1"/><text x="-7.61" y="0" font-size="11.0" style="stroke-width:0.22px">ARC</text></g>
<g transform="translate(248.30 434.50) rotate(-90)"><text x="-24.81" y="0" font-size="11.0" style="stroke-width:0.22px">Cells/mm</text><text x="21.02" y="-4.18" font-size="6.82" style="stroke-width:0.22px">3</text></g>
<g transform="translate(259.90 434.30) rotate(-90)"><rect x="-15.84" y="-6.30" width="6.00" height="6.00" fill="#999" stroke="#111" stroke-width="1"/><text x="-9.34" y="0" font-size="11.0" style="stroke-width:0.22px">&#160;ANC</text></g>
<text transform="translate(268.70 386.10) scale(0.86 1)" x="0" y="0" font-size="21.5" font-weight="bold">F</text>
<line x1="315.40" y1="375.10" x2="315.40" y2="503.30" stroke="#111" stroke-width="1.25"/>
<line x1="315.40" y1="503.30" x2="318.90" y2="503.30" stroke="#111" stroke-width="1.25"/>
<text x="312.90" y="507.10" font-size="10.8" text-anchor="end" font-weight="normal">0</text>
<line x1="315.40" y1="484.99" x2="318.90" y2="484.99" stroke="#111" stroke-width="1.25"/>
<text x="312.90" y="488.79" font-size="10.8" text-anchor="end" font-weight="normal">20</text>
<line x1="315.40" y1="466.67" x2="318.90" y2="466.67" stroke="#111" stroke-width="1.25"/>
<text x="312.90" y="470.47" font-size="10.8" text-anchor="end" font-weight="normal">40</text>
<line x1="315.40" y1="448.36" x2="318.90" y2="448.36" stroke="#111" stroke-width="1.25"/>
<text x="312.90" y="452.16" font-size="10.8" text-anchor="end" font-weight="normal">60</text>
<line x1="315.40" y1="430.04" x2="318.90" y2="430.04" stroke="#111" stroke-width="1.25"/>
<text x="312.90" y="433.84" font-size="10.8" text-anchor="end" font-weight="normal">80</text>
<line x1="315.40" y1="411.73" x2="318.90" y2="411.73" stroke="#111" stroke-width="1.25"/>
<text x="312.90" y="415.53" font-size="10.8" text-anchor="end" font-weight="normal">100</text>
<line x1="315.40" y1="393.41" x2="318.90" y2="393.41" stroke="#111" stroke-width="1.25"/>
<text x="312.90" y="397.21" font-size="10.8" text-anchor="end" font-weight="normal">120</text>
<line x1="315.40" y1="375.10" x2="318.90" y2="375.10" stroke="#111" stroke-width="1.25"/>
<text x="312.90" y="378.90" font-size="10.8" text-anchor="end" font-weight="normal">140</text>
<line x1="466.90" y1="375.20" x2="466.90" y2="503.30" stroke="#111" stroke-width="1.25"/>
<line x1="463.40" y1="503.30" x2="466.90" y2="503.30" stroke="#111" stroke-width="1.25"/>
<text x="470.30" y="507.10" font-size="10.8" text-anchor="start" font-weight="normal">0</text>
<line x1="463.40" y1="485.00" x2="466.90" y2="485.00" stroke="#111" stroke-width="1.25"/>
<text x="470.30" y="488.80" font-size="10.8" text-anchor="start" font-weight="normal">2</text>
<line x1="463.40" y1="466.70" x2="466.90" y2="466.70" stroke="#111" stroke-width="1.25"/>
<text x="470.30" y="470.50" font-size="10.8" text-anchor="start" font-weight="normal">4</text>
<line x1="463.40" y1="448.40" x2="466.90" y2="448.40" stroke="#111" stroke-width="1.25"/>
<text x="470.30" y="452.20" font-size="10.8" text-anchor="start" font-weight="normal">6</text>
<line x1="463.40" y1="430.10" x2="466.90" y2="430.10" stroke="#111" stroke-width="1.25"/>
<text x="470.30" y="433.90" font-size="10.8" text-anchor="start" font-weight="normal">8</text>
<line x1="463.40" y1="411.80" x2="466.90" y2="411.80" stroke="#111" stroke-width="1.25"/>
<text x="470.30" y="415.60" font-size="10.8" text-anchor="start" font-weight="normal">10</text>
<line x1="463.40" y1="393.50" x2="466.90" y2="393.50" stroke="#111" stroke-width="1.25"/>
<text x="470.30" y="397.30" font-size="10.8" text-anchor="start" font-weight="normal">12</text>
<line x1="463.40" y1="375.20" x2="466.90" y2="375.20" stroke="#111" stroke-width="1.25"/>
<text x="470.30" y="379.00" font-size="10.8" text-anchor="start" font-weight="normal">14</text>
<line x1="315.40" y1="503.30" x2="466.90" y2="503.30" stroke="#111" stroke-width="1.25"/>
<line x1="325.00" y1="500.30" x2="325.00" y2="503.30" stroke="#111" stroke-width="1.25"/>
<text x="325.30" y="515.00" font-size="10.8" text-anchor="middle" font-weight="normal">0</text>
<line x1="343.90" y1="500.30" x2="343.90" y2="503.30" stroke="#111" stroke-width="1.25"/>
<text x="344.20" y="515.00" font-size="10.8" text-anchor="middle" font-weight="normal">1</text>
<line x1="362.80" y1="500.30" x2="362.80" y2="503.30" stroke="#111" stroke-width="1.25"/>
<text x="363.10" y="515.00" font-size="10.8" text-anchor="middle" font-weight="normal">2</text>
<line x1="381.70" y1="500.30" x2="381.70" y2="503.30" stroke="#111" stroke-width="1.25"/>
<text x="382.00" y="515.00" font-size="10.8" text-anchor="middle" font-weight="normal">3</text>
<line x1="400.60" y1="500.30" x2="400.60" y2="503.30" stroke="#111" stroke-width="1.25"/>
<text x="400.90" y="515.00" font-size="10.8" text-anchor="middle" font-weight="normal">4</text>
<line x1="419.50" y1="500.30" x2="419.50" y2="503.30" stroke="#111" stroke-width="1.25"/>
<text x="419.80" y="515.00" font-size="10.8" text-anchor="middle" font-weight="normal">5</text>
<line x1="438.40" y1="500.30" x2="438.40" y2="503.30" stroke="#111" stroke-width="1.25"/>
<text x="438.70" y="515.00" font-size="10.8" text-anchor="middle" font-weight="normal">6</text>
<line x1="457.30" y1="500.30" x2="457.30" y2="503.30" stroke="#111" stroke-width="1.25"/>
<text x="457.60" y="515.00" font-size="10.8" text-anchor="middle" font-weight="normal">7</text>
<polyline points="325.00,437.50 343.90,421.75 362.80,427.50 381.70,433.50 400.60,428.70 419.50,429.50 438.40,421.40 457.30,412.00" fill="none" stroke="#111" stroke-width="1.2" stroke-linejoin="round"/>
<polygon points="325.00,434.80 327.70,437.50 325.00,440.20 322.30,437.50" fill="#d0d0d0" stroke="#111" stroke-width="1.1"/>
<polygon points="343.90,419.05 346.60,421.75 343.90,424.45 341.20,421.75" fill="#d0d0d0" stroke="#111" stroke-width="1.1"/>
<polygon points="362.80,424.80 365.50,427.50 362.80,430.20 360.10,427.50" fill="#d0d0d0" stroke="#111" stroke-width="1.1"/>
<polygon points="381.70,430.80 384.40,433.50 381.70,436.20 379.00,433.50" fill="#d0d0d0" stroke="#111" stroke-width="1.1"/>
<polygon points="400.60,426.00 403.30,428.70 400.60,431.40 397.90,428.70" fill="#d0d0d0" stroke="#111" stroke-width="1.1"/>
<polygon points="419.50,426.80 422.20,429.50 419.50,432.20 416.80,429.50" fill="#d0d0d0" stroke="#111" stroke-width="1.1"/>
<polygon points="438.40,418.70 441.10,421.40 438.40,424.10 435.70,421.40" fill="#d0d0d0" stroke="#111" stroke-width="1.1"/>
<polygon points="457.30,409.30 460.00,412.00 457.30,414.70 454.60,412.00" fill="#d0d0d0" stroke="#111" stroke-width="1.1"/>
<polyline points="325.00,480.00 343.90,481.25 362.80,463.25 381.70,464.25 400.60,383.70 419.50,439.40 438.40,385.00 457.30,375.30" fill="none" stroke="#111" stroke-width="1.2" stroke-linejoin="round"/>
<rect x="322.90" y="477.90" width="4.20" height="4.20" fill="#e0e0e0" stroke="#111" stroke-width="1.1"/>
<rect x="341.80" y="479.15" width="4.20" height="4.20" fill="#e0e0e0" stroke="#111" stroke-width="1.1"/>
<rect x="360.70" y="461.15" width="4.20" height="4.20" fill="#e0e0e0" stroke="#111" stroke-width="1.1"/>
<rect x="379.60" y="462.15" width="4.20" height="4.20" fill="#e0e0e0" stroke="#111" stroke-width="1.1"/>
<rect x="398.50" y="381.60" width="4.20" height="4.20" fill="#e0e0e0" stroke="#111" stroke-width="1.1"/>
<rect x="417.40" y="437.30" width="4.20" height="4.20" fill="#e0e0e0" stroke="#111" stroke-width="1.1"/>
<rect x="436.30" y="382.90" width="4.20" height="4.20" fill="#e0e0e0" stroke="#111" stroke-width="1.1"/>
<rect x="455.20" y="373.20" width="4.20" height="4.20" fill="#e0e0e0" stroke="#111" stroke-width="1.1"/>
<polyline points="323.30,396.80 323.30,395.60 335.20,395.60 335.20,396.80" fill="none" stroke="#111" stroke-width="0.8"/>
<line x1="325.60" y1="398.20" x2="325.60" y2="416.00" stroke="#111" stroke-width="1.15"/>
<polygon points="325.60,420.00 327.60,415.00 323.60,415.00" fill="#111"/>
<line x1="328.90" y1="398.20" x2="328.90" y2="416.00" stroke="#111" stroke-width="1.15"/>
<polygon points="328.90,420.00 330.90,415.00 326.90,415.00" fill="#111"/>
<line x1="332.30" y1="398.20" x2="332.30" y2="416.00" stroke="#111" stroke-width="1.15"/>
<polygon points="332.30,420.00 334.30,415.00 330.30,415.00" fill="#111"/>
<text x="329.30" y="394.30" font-size="4.7" style="stroke-width:0.25px" transform="rotate(-90 329.30 394.30)">Red</text>
<text x="334.20" y="394.30" font-size="4.7" style="stroke-width:0.25px" transform="rotate(-90 334.20 394.30)">cells</text>
<text x="394.20" y="529.40" font-size="11.0" text-anchor="middle" font-weight="normal">Months</text>
<line x1="325.10" y1="526.70" x2="325.10" y2="531.30" stroke="#111" stroke-width="1.8"/>
<polygon points="325.10,519.20 328.90,528.20 325.10,527.00 321.30,528.20" fill="#111"/>
<text x="326.50" y="540.40" font-size="11.0" text-anchor="middle" font-weight="normal">Daclizumab</text>
<g transform="translate(276.50 439.50) rotate(-90)"><text x="-44.99" y="0" font-size="11.0" style="stroke-width:0.22px">Cells&#160;(x1000)/mm</text><text x="41.20" y="-4.18" font-size="6.82" style="stroke-width:0.22px">3</text></g>
<g transform="translate(290.20 435.80) rotate(-90)"><rect x="-14.86" y="-7.21" width="6.50" height="6.50" fill="#ccc" stroke="#111" stroke-width="1"/><text x="-7.86" y="0" font-size="11.0" style="stroke-width:0.22px">ARC</text></g>
<g transform="translate(508.00 429.80) rotate(-90)"><text x="-28.21" y="0" font-size="10.5" style="stroke-width:0.22px">g/dL,</text><polygon points="-2.05,-3.80 2.05,-9.10 6.15,-3.80 2.05,1.50" fill="#888" stroke="#111" stroke-width="1"/><text x="8.95" y="0" font-size="10.5" style="stroke-width:0.22px">Hgb</text></g>
</svg>
</body></html>
